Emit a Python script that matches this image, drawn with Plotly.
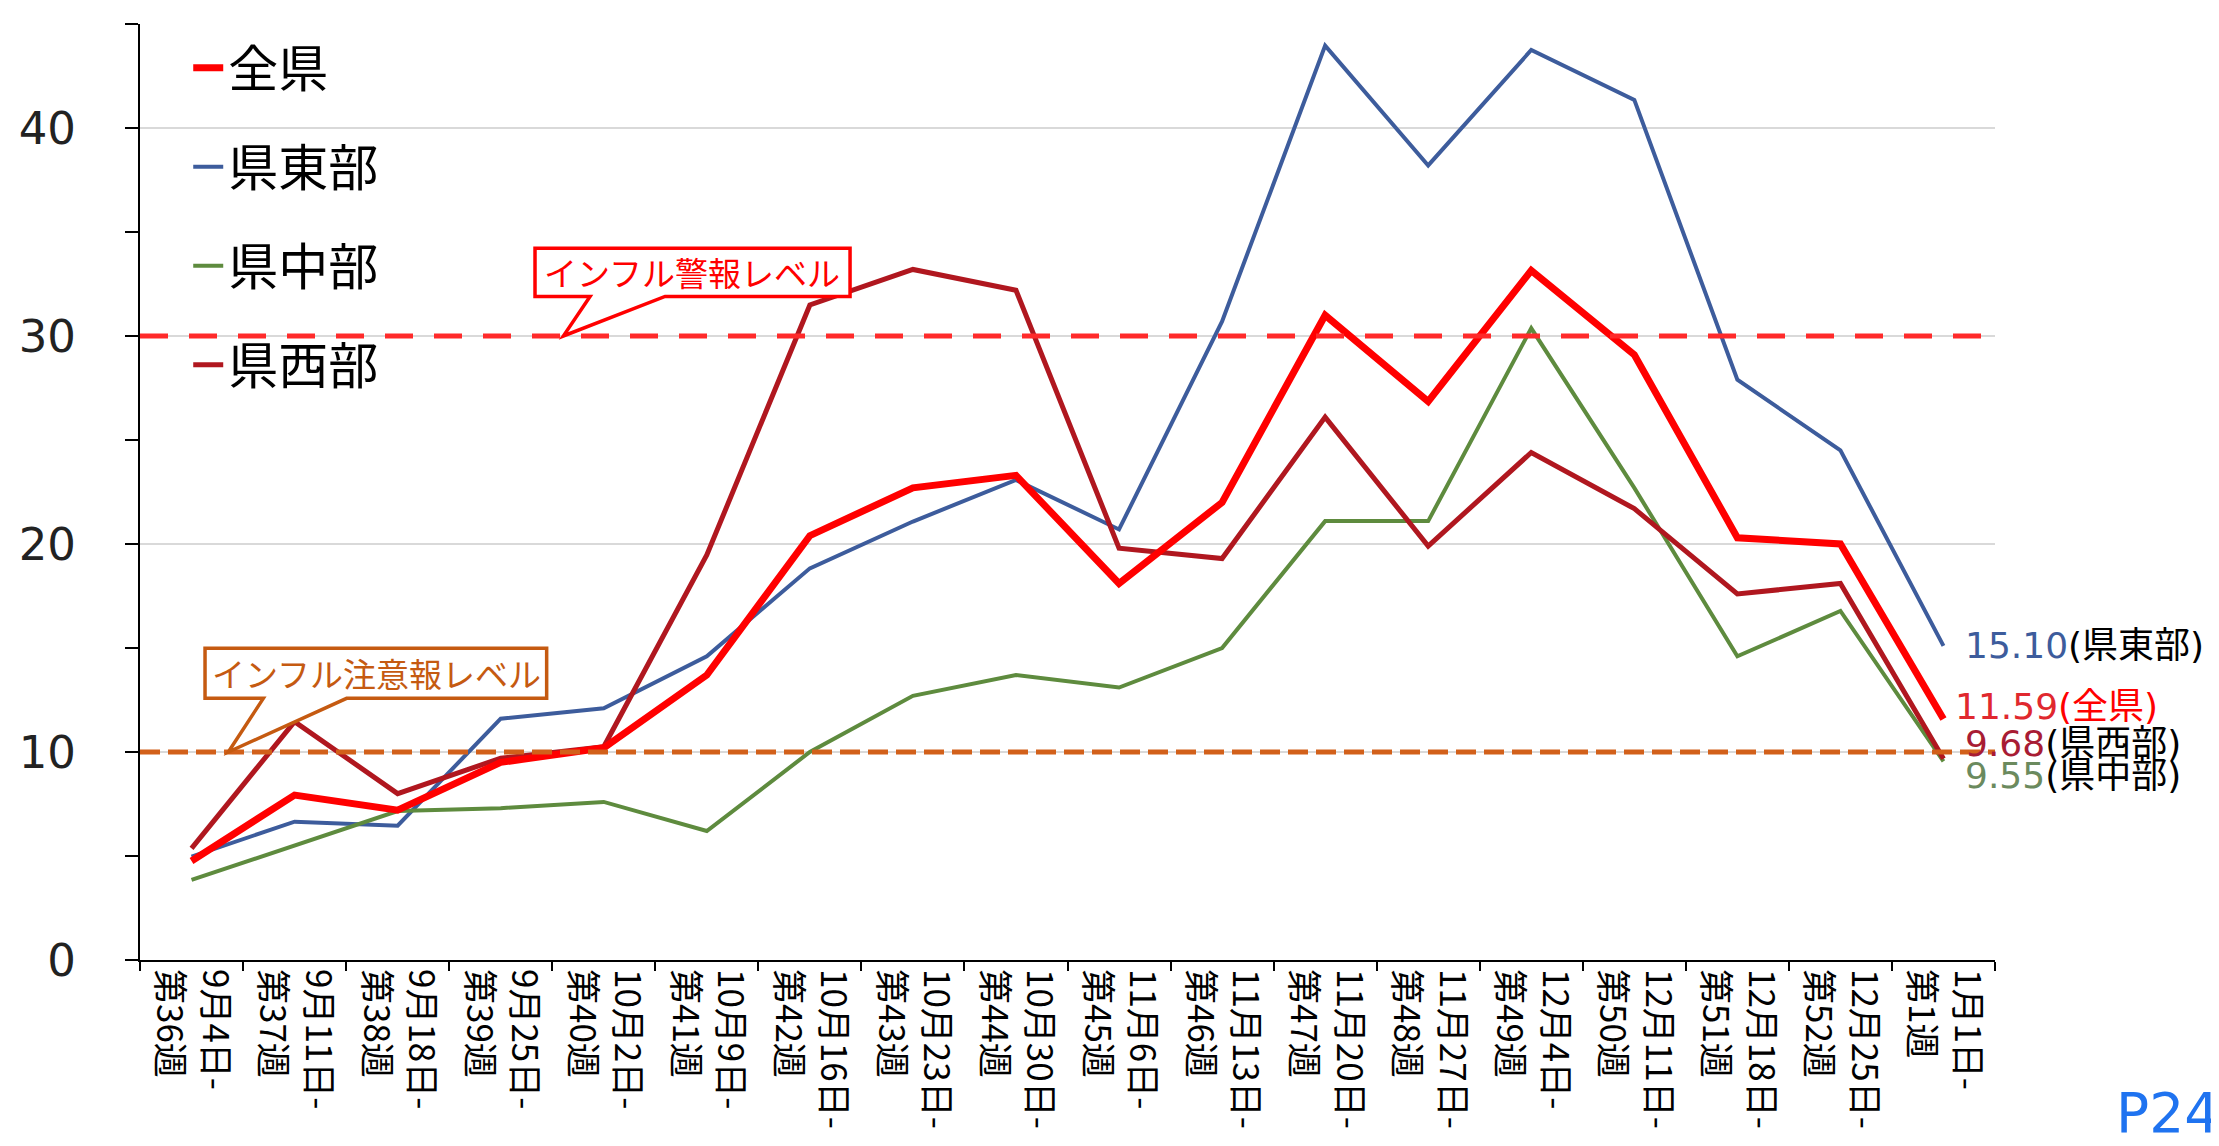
import plotly.graph_objects as go

# ---------------- data ----------------
weeks = ["第36週", "第37週", "第38週", "第39週", "第40週", "第41週", "第42週", "第43週", "第44週",
         "第45週", "第46週", "第47週", "第48週", "第49週", "第50週", "第51週", "第52週", "第1週"]
dates = ["9月4日-", "9月11日-", "9月18日-", "9月25日-", "10月2日-", "10月9日-", "10月16日-", "10月23日-",
         "10月30日-", "11月6日-", "11月13日-", "11月20日-", "11月27日-", "12月4日-", "12月11日-",
         "12月18日-", "12月25日-", "1月1日-"]

zenken = [4.76, 7.93, 7.20, 9.50, 10.20, 13.70, 20.40, 22.70, 23.30, 18.10, 22.00, 31.00, 26.85,
          33.15, 29.10, 20.30, 20.00, 11.59]
toubu = [4.97, 6.65, 6.46, 11.60, 12.10, 14.60, 18.83, 21.08, 23.08, 20.70, 30.70, 43.96, 38.20,
         43.75, 41.35, 27.90, 24.50, 15.10]
chubu = [3.85, 5.50, 7.16, 7.30, 7.60, 6.20, 10.00, 12.70, 13.70, 13.10, 15.00, 21.10, 21.10,
         30.37, 22.70, 14.60, 16.78, 9.55]
seibu = [5.37, 11.46, 8.00, 9.70, 10.25, 19.47, 31.49, 33.20, 32.20, 19.80, 19.30, 26.10, 19.90,
         24.40, 21.70, 17.60, 18.10, 9.68]

warning_level = 30      # インフル警報レベル
caution_level = 10      # インフル注意報レベル

y_tick_values = [0, 10, 20, 30, 40]

# ---------------- styles ----------------
CJK = "Noto Sans CJK JP"
NUM = "DejaVu Sans, Noto Sans CJK JP"

series = [
    # name, values, color, width, rank, label color, label yshift
    ("県東部", toubu, "#3D5C9C", 4, 2, "#3D5C9C", 0),
    ("県中部", chubu, "#5E8B3E", 4, 3, "#6B8A5E", -14),
    ("県西部", seibu, "#B0171F", 5, 4, "#A81C34", 15),
    ("全県", zenken, "#FF0000", 7, 1, "#E0282E", 12),
]

n = len(weeks)
xs = list(range(n))
ticktext = [f"{d}<br>{w}" for w, d in zip(weeks, dates)]

fig = go.Figure()
for name, vals, color, width, rank, _, _ in series:
    fig.add_trace(go.Scatter(
        x=xs, y=vals, mode="lines", name=name,
        line=dict(color=color, width=width),
        legendgroup=name, legendrank=rank,
    ))

# threshold lines
fig.add_shape(type="line", xref="x", yref="y", x0=-0.5, x1=17.47, y0=warning_level, y1=warning_level,
              line=dict(color="#FF2A2A", width=5, dash="28px,21px"), layer="above")
fig.add_shape(type="line", xref="x", yref="y", x0=-0.5, x1=17.62, y0=caution_level, y1=caution_level,
              line=dict(color="#D2601A", width=5, dash="20px,8px"), layer="above")

# callouts
def callout(box, tail, tip_x, tip_y, color):
    l, r, t, b = box
    t0, t1 = tail
    path = (f"M {l},{t} L {r},{t} L {r},{b} L {t1},{b} L {tip_x},{tip_y} "
            f"L {t0},{b} L {l},{b} Z")
    fig.add_shape(type="path", xref="x", yref="y", path=path,
                  fillcolor="white", line=dict(color=color, width=3.5), layer="above")

callout((3.333, 6.39, 34.22, 31.9), (3.867, 4.595), 3.608, warning_level, "#FF0000")
callout((0.131, 3.446, 14.99, 12.58), (0.697, 1.505), 0.357, caution_level, "#C55A11")

fig.add_annotation(x=4.86, y=33.06, xref="x", yref="y", text="インフル警報レベル", showarrow=False,
                   font=dict(family=CJK, size=33, color="#FF0000"))
fig.add_annotation(x=1.79, y=13.79, xref="x", yref="y", text="インフル注意報レベル", showarrow=False,
                   font=dict(family=CJK, size=33, color="#C55A11"))

# end value labels
for name, vals, color, width, rank, lab_color, ysh in series:
    v = vals[-1]
    if name == "全県":
        txt = f'<span style="color:{lab_color}">{v:.2f}</span><span style="color:#FF0000">({name})</span>'
        xsh = 10
    else:
        txt = f'<span style="color:{lab_color}">{v:.2f}</span>({name})'
        xsh = 20
    fig.add_annotation(x=xs[-1], y=v, xref="x", yref="y", text=txt, showarrow=False,
                       xanchor="left", yanchor="middle", xshift=xsh, yshift=ysh,
                       font=dict(family=NUM, size=36, color="#000000"))

# page number
fig.add_annotation(x=1.122, y=-0.2, xref="paper", yref="paper", text="P24", showarrow=False,
                   xanchor="right", yanchor="bottom", font=dict(family="DejaVu Sans", size=55, color="#1F73F0"))

fig.update_layout(
    width=2219, height=1146, autosize=False,
    margin=dict(l=132, r=232, t=16, b=194, pad=0),
    paper_bgcolor="white", plot_bgcolor="white",
    showlegend=True,
    legend=dict(x=0.026, y=0.995, xanchor="left", yanchor="top", bgcolor="rgba(0,0,0,0)",
                font=dict(family=CJK, size=50, color="#000000"),
                traceorder="grouped", tracegroupgap=31),
    xaxis=dict(range=[-0.5, n - 0.5], tickmode="array", tickvals=xs, ticktext=ticktext,
               ticks="", tickangle=90, showgrid=False, zeroline=False,
               showline=True, linecolor="#000000", linewidth=2,
               tickfont=dict(family=CJK, size=35, color="#000000"),
               minor=dict(tick0=-0.5, dtick=1, ticks="outside", ticklen=9, tickwidth=2,
                          tickcolor="#000000", showgrid=False)),
    yaxis=dict(range=[0, 45], tickmode="array", tickvals=y_tick_values,
               ticks="outside", ticklen=13, tickwidth=2, tickcolor="#000000",
               showgrid=True, gridcolor="#D9D9D9", gridwidth=2, zeroline=False,
               showline=True, linecolor="#000000", linewidth=2,
               ticklabelstandoff=40,
               tickfont=dict(family="DejaVu Sans", size=45, color="#222222"),
               minor=dict(tick0=0, dtick=5, ticks="outside", ticklen=13, tickwidth=2,
                          tickcolor="#000000", showgrid=False)),
)

fig.write_html("out.html")
